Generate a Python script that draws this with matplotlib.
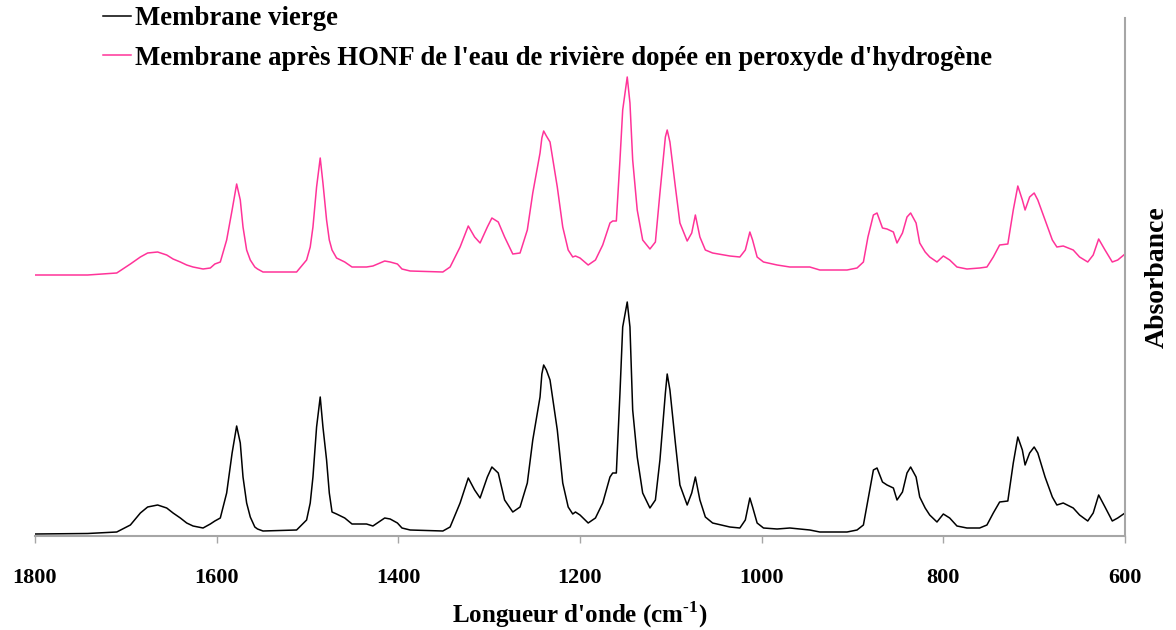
#!/usr/bin/env python

""" FTIR spectra of the membrane, before and after HONF """

import matplotlib
matplotlib.use("Agg")
import matplotlib.pyplot as plt

plt.rcParams['font.family'] = ['Liberation Serif', 'DejaVu Serif']
plt.rcParams['font.weight'] = 'bold'
plt.rcParams['mathtext.fontset'] = 'custom'
plt.rcParams['mathtext.rm'] = 'Liberation Serif:bold'
plt.rcParams['mathtext.bf'] = 'Liberation Serif:bold'

#----- Data (arbitrary absorbance units) -----

wavenumber = [
    1800, 1742, 1710, 1695, 1684, 1676, 1665, 1655, 1648, 1640, 1633, 1626,
    1615, 1607, 1602, 1596, 1589, 1583, 1578, 1574, 1571, 1567, 1563, 1558,
    1555, 1549, 1512, 1501, 1497, 1494, 1490, 1486, 1483, 1479, 1476, 1473,
    1468, 1459, 1451, 1435, 1428, 1415, 1409, 1401, 1396, 1387, 1351, 1343,
    1332, 1323, 1316, 1310, 1302, 1297, 1290, 1283, 1274, 1266, 1258, 1252,
    1244, 1242, 1240, 1237, 1233, 1225, 1219, 1213, 1208, 1205, 1200, 1191,
    1183, 1175, 1167, 1164, 1160, 1156, 1153, 1148, 1145, 1142, 1137, 1131,
    1123, 1117, 1112, 1106, 1104, 1101, 1095, 1090, 1082, 1077, 1073, 1068,
    1062, 1054, 1035, 1024, 1018, 1013, 1010, 1005, 998, 983, 969, 947,
    936, 906, 895, 888, 883, 877, 873, 867, 862, 855, 851, 845,
    840, 836, 830, 826, 820, 815, 807, 800, 793, 785, 774, 760,
    752, 745, 738, 729, 723, 718, 713, 710, 705, 700, 696, 688,
    680, 675, 668, 657, 650, 641, 635, 629, 622, 614, 608, 600,
]

membrane_vierge = [
    0.02, 0.025, 0.04, 0.11, 0.23, 0.29, 0.31, 0.28, 0.23, 0.18, 0.13, 0.10,
    0.08, 0.12, 0.15, 0.18, 0.43, 0.83, 1.10, 0.93, 0.59, 0.33, 0.19, 0.09,
    0.07, 0.05, 0.06, 0.16, 0.33, 0.59, 1.09, 1.39, 1.09, 0.76, 0.43, 0.24,
    0.22, 0.18, 0.12, 0.12, 0.10, 0.18, 0.17, 0.13, 0.08, 0.06, 0.05, 0.09,
    0.33, 0.58, 0.46, 0.38, 0.59, 0.69, 0.63, 0.36, 0.24, 0.29, 0.53, 0.96,
    1.39, 1.62, 1.71, 1.66, 1.56, 1.06, 0.53, 0.29, 0.22, 0.24, 0.21, 0.13,
    0.18, 0.33, 0.59, 0.63, 0.63, 1.43, 2.09, 2.34, 2.09, 1.26, 0.79, 0.43,
    0.28, 0.36, 0.76, 1.43, 1.62, 1.46, 0.93, 0.51, 0.31, 0.43, 0.59, 0.36,
    0.19, 0.13, 0.09, 0.08, 0.16, 0.38, 0.29, 0.13, 0.08, 0.07, 0.08, 0.06,
    0.04, 0.04, 0.06, 0.11, 0.36, 0.66, 0.68, 0.54, 0.51, 0.48, 0.36, 0.44,
    0.63, 0.69, 0.59, 0.39, 0.28, 0.21, 0.14, 0.22, 0.18, 0.10, 0.08, 0.08,
    0.11, 0.23, 0.34, 0.35, 0.73, 0.99, 0.86, 0.71, 0.83, 0.89, 0.83, 0.59,
    0.39, 0.31, 0.33, 0.28, 0.21, 0.15, 0.23, 0.41, 0.29, 0.15, 0.18, 0.23,
]

membrane_apres = [
    2.61, 2.61, 2.63, 2.72, 2.79, 2.83, 2.84, 2.81, 2.77, 2.74, 2.71, 2.69,
    2.67, 2.68, 2.72, 2.74, 2.96, 3.26, 3.52, 3.36, 3.09, 2.86, 2.76, 2.69,
    2.67, 2.64, 2.64, 2.76, 2.89, 3.09, 3.49, 3.78, 3.53, 3.16, 2.96, 2.86,
    2.78, 2.74, 2.69, 2.69, 2.70, 2.75, 2.74, 2.72, 2.67, 2.65, 2.64, 2.69,
    2.89, 3.10, 2.99, 2.93, 3.09, 3.18, 3.14, 2.99, 2.82, 2.83, 3.06, 3.43,
    3.83, 3.98, 4.05, 4.00, 3.94, 3.49, 3.09, 2.86, 2.79, 2.80, 2.78, 2.71,
    2.76, 2.91, 3.13, 3.15, 3.15, 3.76, 4.26, 4.59, 4.33, 3.76, 3.26, 2.96,
    2.87, 2.94, 3.43, 3.99, 4.06, 3.94, 3.49, 3.13, 2.95, 3.03, 3.21, 2.99,
    2.86, 2.83, 2.80, 2.79, 2.86, 3.04, 2.96, 2.79, 2.74, 2.71, 2.69, 2.69,
    2.66, 2.66, 2.68, 2.74, 2.99, 3.21, 3.23, 3.08, 3.07, 3.04, 2.93, 3.03,
    3.19, 3.23, 3.13, 2.93, 2.84, 2.79, 2.74, 2.80, 2.76, 2.69, 2.67, 2.68,
    2.69, 2.79, 2.91, 2.92, 3.26, 3.50, 3.36, 3.26, 3.39, 3.43, 3.36, 3.16,
    2.96, 2.89, 2.90, 2.86, 2.79, 2.74, 2.81, 2.97, 2.86, 2.74, 2.76, 2.82,
]

xticks = [1800, 1600, 1400, 1200, 1000, 800, 600]

labels = ["Membrane vierge",
          "Membrane après HONF de l'eau de rivière dopée en peroxyde d'hydrogène"]

#----- Create the plot ---------------------------------

W, H = 1176, 630
fig = plt.figure(figsize=(W / 100.0, H / 100.0), dpi=100)
ax = fig.add_axes([35.0 / W, 1 - 536.0 / H, 1090.0 / W, 518.0 / H])

axis_grey = '#a6a6a6'

ax.plot(wavenumber, membrane_vierge, color='black', linewidth=1.1, label=labels[0])
ax.plot(wavenumber, membrane_apres, color='#ff3399', linewidth=1.1, label=labels[1])

ax.set_xlim(1800, 600)
ax.set_ylim(0, 5.18)

ax.spines['top'].set_visible(False)
ax.spines['left'].set_visible(False)
ax.spines['bottom'].set_color(axis_grey)
ax.spines['right'].set_color(axis_grey)
ax.spines['bottom'].set_linewidth(1.5)
ax.spines['right'].set_linewidth(1.5)

ax.set_xticks(xticks)
ax.tick_params(axis='x', direction='out', length=5, width=1, color=axis_grey,
               pad=18, labelsize=16)
ax.set_yticks([])

ax.set_xlabel(r"Longueur d'onde (cm$^{\text{-1}}$)", fontsize=18,
              fontweight='bold', labelpad=8)
ax.yaxis.set_label_position('right')
ax.set_ylabel("Absorbance", fontsize=20, fontweight='bold', labelpad=14)

fig.legend(loc='upper left', bbox_to_anchor=(103.0 / W, 1 - 6.0 / H),
           frameon=False, fontsize=19.3, handlelength=1.05, handletextpad=0.15,
           labelspacing=0.55, borderpad=0, borderaxespad=0)

plt.savefig('out.png', dpi=100)
